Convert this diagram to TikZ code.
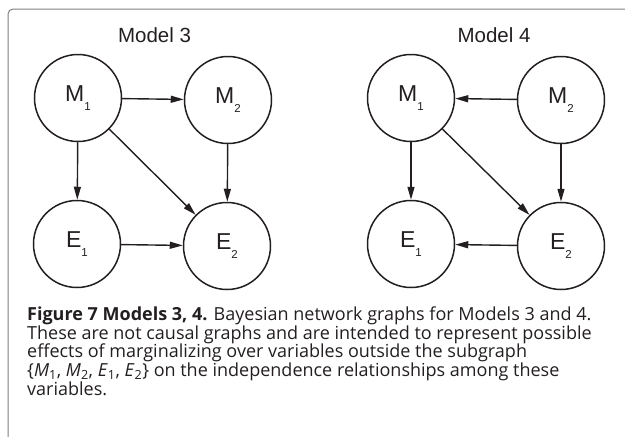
\documentclass[tikz,border=0pt]{standalone}
\usepackage{fontspec}
\setmainfont{Open Sans}
\newfontfamily\arialfont{Liberation Sans}
\usetikzlibrary{arrows.meta}
\definecolor{ink}{HTML}{231F20}
\definecolor{framegray}{HTML}{808080}
\newcommand{\varlab}[2]{{\arialfont\fontsize{23}{23}\selectfont #1\raisebox{-9.5pt}{\fontsize{11.5}{11.5}\selectfont #2}}}
\newcommand{\capsub}[1]{\textsubscript{\upshape #1}}
\tikzset{
  var/.style={circle, draw=ink, line width=1.5pt, minimum size=87pt, inner sep=0pt, text=ink},
  edge/.style={draw=ink, line width=1.4pt, -{Triangle[length=13pt,width=7pt]}},
  title/.style={anchor=base, inner sep=0pt, text=ink, font=\arialfont\fontsize{20.5}{20.5}\selectfont},
  capline/.style={anchor=base west, inner sep=0pt, text=ink, font=\fontsize{18}{19}\selectfont}
}
\begin{document}
\begin{tikzpicture}[x=1pt, y=-1pt]
\useasboundingbox (0,0) rectangle (625,437);
% frame
\draw[framegray, line width=1pt, rounded corners=5pt] (8,437) -- (8,9) -- (625,9);
% Model 3
\node[title] (t3) at (154.5,42) {Model 3};
\node[var] (a1) at (78,98) {\varlab{M}{1}};
\node[var] (a2) at (228,100) {\varlab{M}{2}};
\node[var] (a3) at (77,244) {\varlab{E}{1}};
\node[var] (a4) at (227,246) {\varlab{E}{2}};
\draw[edge] (a1) -- (a2);
\draw[edge] (a1) -- (a3);
\draw[edge] (a2) -- (a4);
\draw[edge] (a1) -- (a4);
\draw[edge] (a3) -- (a4);
% Model 4
\node[title] (t4) at (494,42) {Model 4};
\node[var] (b1) at (411,98) {\varlab{M}{1}};
\node[var] (b2) at (561,100) {\varlab{M}{2}};
\node[var] (b3) at (411,244) {\varlab{E}{1}};
\node[var] (b4) at (561,246) {\varlab{E}{2}};
\draw[edge] (b2) -- (b1);
\draw[edge] (b1) -- (b3);
\draw[edge] (b2) -- (b4);
\draw[edge] (b1) -- (b4);
\draw[edge] (b4) -- (b3);
% caption
\node[capline] (c1) at (27,320.5) {\textbf{Figure 7 Models 3, 4.} Bayesian network graphs for Models 3 and 4.};
\node[capline] (c2) at (27,339.2) {These are not causal graphs and are intended to represent possible};
\node[capline] (c3) at (27,357.9) {effects of marginalizing over variables outside the subgraph};
\node[capline] (c4) at (27,376.6) {\{\textit{M}\capsub{1}, \textit{M}\capsub{2}, \textit{E}\capsub{1}, \textit{E}\capsub{2}\} on the independence relationships among these};
\node[capline] (c5) at (27,395.3) {variables.};
\end{tikzpicture}
\end{document}
